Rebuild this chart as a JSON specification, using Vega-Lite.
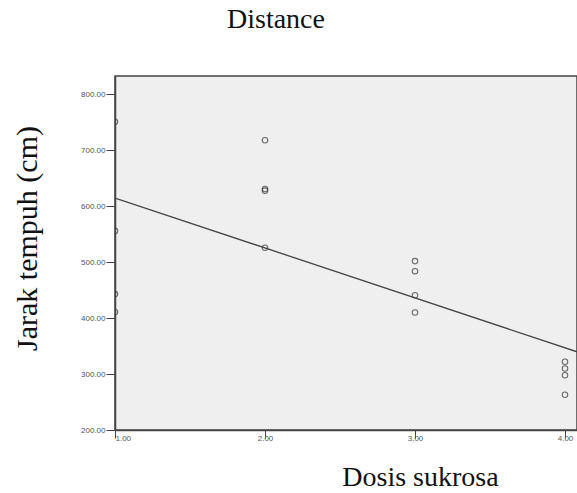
{
  "$schema": "https://vega.github.io/schema/vega-lite/v6.json",
  "width": 462,
  "height": 354,
  "autosize": {"type": "none"},
  "padding": {"left": 115, "top": 76, "right": 0, "bottom": 63},
  "background": "white",
  "view": {"fill": "#efefef", "stroke": "#444444", "strokeWidth": 1.5},
  "title": {
    "text": "Distance",
    "font": "Liberation Serif",
    "fontSize": 28,
    "fontWeight": "normal",
    "color": "#111111",
    "anchor": "middle",
    "frame": "group",
    "dx": -70,
    "offset": 42
  },
  "data": {
    "values": [
      {"dosis": 1, "jarak": 751},
      {"dosis": 1, "jarak": 556},
      {"dosis": 1, "jarak": 443},
      {"dosis": 1, "jarak": 411},
      {"dosis": 2, "jarak": 718},
      {"dosis": 2, "jarak": 631},
      {"dosis": 2, "jarak": 628},
      {"dosis": 2, "jarak": 526},
      {"dosis": 3, "jarak": 502},
      {"dosis": 3, "jarak": 484},
      {"dosis": 3, "jarak": 441},
      {"dosis": 3, "jarak": 410},
      {"dosis": 4, "jarak": 322},
      {"dosis": 4, "jarak": 310},
      {"dosis": 4, "jarak": 298},
      {"dosis": 4, "jarak": 263}
    ]
  },
  "encoding": {
    "x": {
      "field": "dosis",
      "type": "quantitative",
      "scale": {"domain": [1, 4.08], "nice": false, "zero": false},
      "axis": {
        "title": "Dosis sukrosa",
        "values": [1, 2, 3, 4],
        "format": ".2f",
        "grid": false,
        "domainColor": "#444444",
        "domainWidth": 1.5,
        "tickColor": "#444444",
        "tickSize": 8,
        "labelPadding": -4,
        "labelFont": "Liberation Sans",
        "labelFontSize": 8,
        "labelColor": "#555555",
        "titleFont": "Liberation Serif",
        "titleFontSize": 28,
        "titleFontWeight": "normal",
        "titleColor": "#111111",
        "titleX": 305,
        "titleY": 55,
        "titleAlign": "center",
        "titleBaseline": "alphabetic"
      }
    },
    "y": {
      "field": "jarak",
      "type": "quantitative",
      "scale": {"domain": [200, 833], "nice": false, "zero": false},
      "axis": {
        "title": "Jarak tempuh (cm)",
        "values": [200, 300, 400, 500, 600, 700, 800],
        "format": ".2f",
        "grid": false,
        "domainColor": "#444444",
        "domainWidth": 1.5,
        "tickColor": "#444444",
        "tickSize": 9,
        "labelPadding": 1,
        "labelFont": "Liberation Sans",
        "labelFontSize": 8,
        "labelColor": "#555555",
        "titleFont": "Liberation Serif",
        "titleFontSize": 30,
        "titleFontWeight": "normal",
        "titleColor": "#111111",
        "titleAngle": -90,
        "titleX": -88,
        "titleY": 162,
        "titleAlign": "center",
        "titleBaseline": "middle"
      }
    }
  },
  "layer": [
    {
      "mark": {"type": "point", "shape": "circle", "filled": false, "stroke": "#333333", "strokeWidth": 1.1, "size": 30, "clip": true}
    },
    {
      "transform": [{"regression": "jarak", "on": "dosis", "extent": [1, 4.08]}],
      "mark": {"type": "line", "color": "#444444", "strokeWidth": 1.3, "clip": true}
    }
  ]
}
